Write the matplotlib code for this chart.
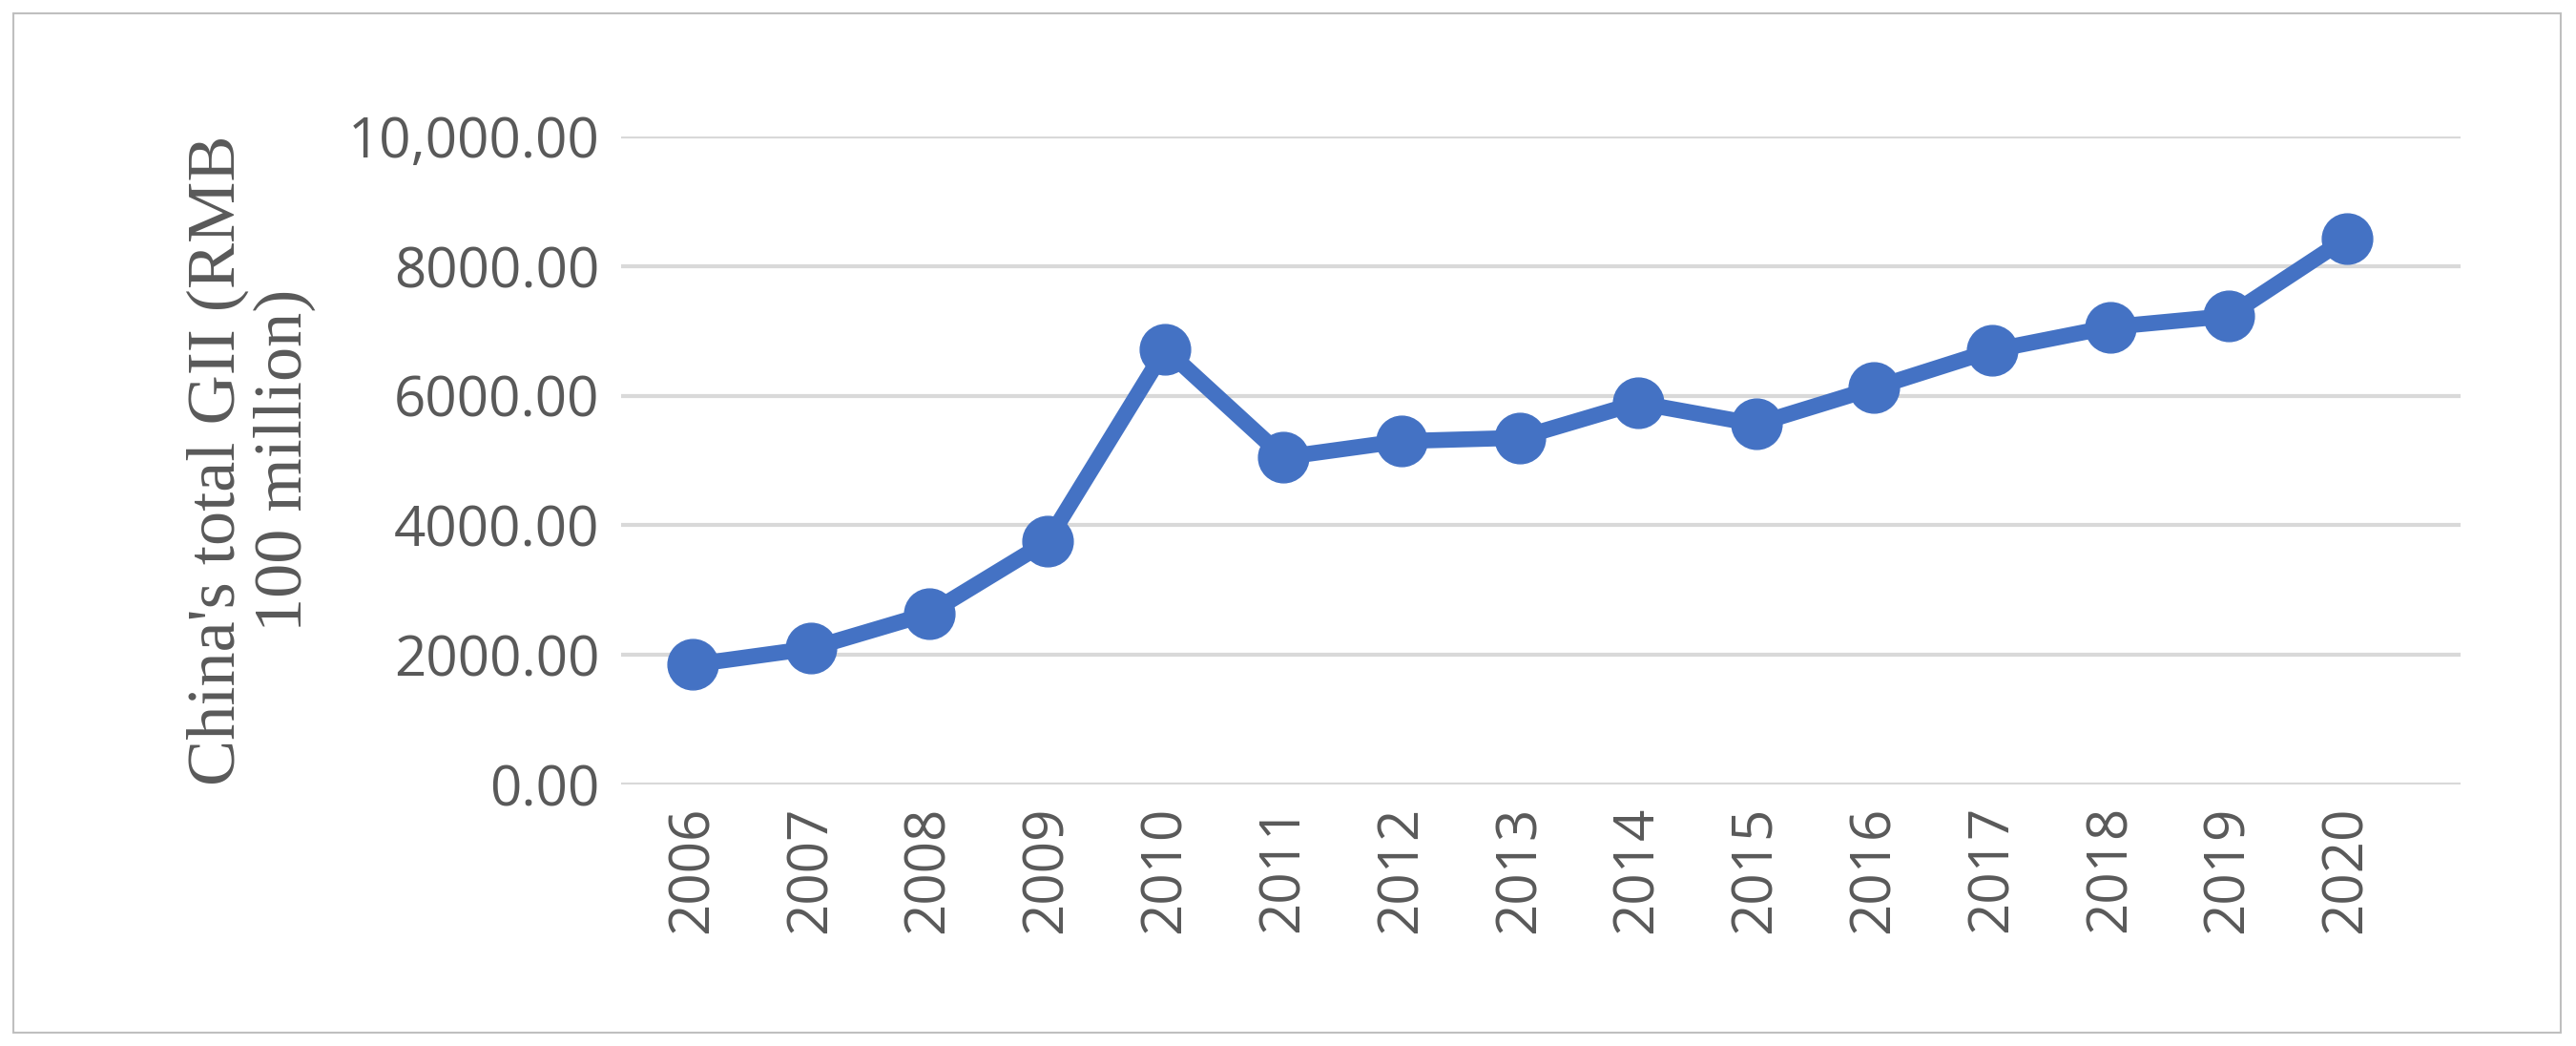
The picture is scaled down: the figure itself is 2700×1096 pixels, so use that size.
import matplotlib
matplotlib.use("Agg")
import matplotlib.pyplot as plt
from matplotlib.patches import Rectangle
from matplotlib.ticker import FuncFormatter

anos = ["2006", "2007", "2008", "2009", "2010", "2011", "2012", "2013",
        "2014", "2015", "2016", "2017", "2018", "2019", "2020"]
gii = [1850, 2100, 2640, 3750, 6720, 5050, 5300, 5350,
       5890, 5560, 6120, 6700, 7060, 7230, 8430]

AZUL = "#4472C4"
CINZA = "#595959"

fig = plt.figure(figsize=(27, 10.96), dpi=100)
ax = fig.add_axes([0.241, 0.25, 0.714, 0.6195])
fig.patches.append(Rectangle((0.005, 0.013), 0.989, 0.974, transform=fig.transFigure,
                             fill=False, edgecolor="#BFBFBF", linewidth=1.5))

x = list(range(len(anos)))
ax.plot(x, gii, color=AZUL, linewidth=12, marker="o", markersize=38, zorder=3)

ax.set_xlim(-0.61, 14.96)
ax.set_ylim(0, 10000)
ax.set_yticks(range(0, 10001, 2000))
ax.yaxis.set_major_formatter(FuncFormatter(
    lambda v, p: f"{v:,.2f}" if v >= 10000 else f"{v:.2f}"))
ax.set_xticks(x)
ax.set_xticklabels(anos, rotation=90)
ax.tick_params(axis="both", length=0, labelsize=42, labelcolor=CINZA, pad=16)
for t in ax.get_xticklabels() + ax.get_yticklabels():
    t.set_family("Open Sans")
ax.grid(axis="y", color="#D9D9D9", linewidth=3)
ax.set_axisbelow(True)
for s in ax.spines.values():
    s.set_visible(False)

ax.set_ylabel("China's total GII (RMB\n100 million)", family="Liberation Serif",
              fontsize=52, color=CINZA, labelpad=24, linespacing=1.1)

fig.savefig("out.png", dpi=100)
